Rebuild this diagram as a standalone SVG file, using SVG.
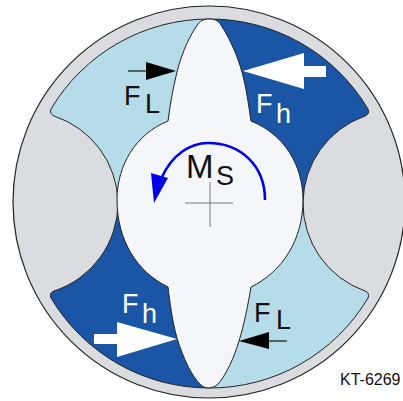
<svg xmlns="http://www.w3.org/2000/svg" width="403" height="401" viewBox="0 0 403 401">
<style>
.c{stroke:#222;stroke-width:1}
.t{font-family:"Liberation Sans",Arial,sans-serif;fill:#111;font-size:27px}
.w{fill:#fff}
</style>
<rect width="403" height="401" fill="#fff"/>
<g id="housing"><circle cx="209" cy="202" r="196" fill="#dbdcdf" stroke="#222" stroke-width="1.2"/></g>
<g id="chambers">
<path id="chamber-tl" class="c" fill="#b5dce8" d="M51,109 A184,184 0 0 1 209,19 L209,202 L118,202 A93,93 0 0 0 54,116 Q49,113 51,109Z"/>
<path id="chamber-tr" class="c" fill="#1a56a5" d="M209,19 A184,184 0 0 1 368,109 Q370,114 365,116 A93,93 0 0 0 303,202 L209,202Z"/>
<path id="chamber-bl" class="c" fill="#1a56a5" d="M209,388 A184,184 0 0 1 51,298 Q49,293 54,291 A93,93 0 0 0 118,202 L209,202Z"/>
<path id="chamber-br" class="c" fill="#b5dce8" d="M209,388 A184,184 0 0 0 368,298 Q370,293 365,291 A93,93 0 0 1 303,202 L209,202Z"/>
</g>
<g id="rotor">
<path class="c" fill="#f4f6fa" d="M209,19 C214,19 218,20 221,25 C232,42 240,62 244,80 C247,93 249,108 251,121 C284,134 303,165 303,200 C303,240 282,272 251,287 C248,305 244,325 239,341 C234,358 226,375 218,384 C213,389 205,389 201,385 C192,377 183,358 177,338 C172,320 170,303 168,287 C137,272 117,240 117,200 C117,165 136,134 168,121 C170,105 173,88 177,72 C182,52 190,35 198,24 C201,20 205,19 209,19Z"/>
</g>
<g id="center-cross" stroke="#777" stroke-width="1" fill="none">
<path d="M185,203H233M210,182V227"/>
</g>
<g id="connectors">
<path d="M265,200 C265,165 240,143 208,143 C190,143 172,155 162,177" fill="none" stroke="#0000e6" stroke-width="2.6"/>
<polygon points="151,173 168,178 154,203" fill="#0000e6"/>
<path d="M128,71H148" stroke="#111" stroke-width="1.2"/>
<polygon points="146,62 176,71 146,80" fill="#000"/>
<polygon points="243,71 304,53 304,66 326,66 326,77 304,77 304,89" fill="#fff"/>
<polygon points="177,339 117,322 117,334 94,334 94,344 117,344 117,357" fill="#fff"/>
<path d="M268,341H287" stroke="#111" stroke-width="1.2"/>
<polygon points="239,341 269,332 269,349" fill="#000"/>
</g>
<g id="labels">
<text class="t" x="124" y="105">F</text><text class="t" x="145" y="113">L</text>
<text class="t w" x="256" y="113">F</text><text class="t w" x="276" y="123">h</text>
<text class="t w" x="122" y="313">F</text><text class="t w" x="142" y="323">h</text>
<text class="t" x="254" y="322">F</text><text class="t" x="276" y="329">L</text>
<text class="t" x="186" y="178" style="font-size:33px">M</text><text class="t" x="216" y="185">S</text>
<text class="t" x="340" y="385" style="font-size:16px">KT-6269</text>
</g>
</svg>
